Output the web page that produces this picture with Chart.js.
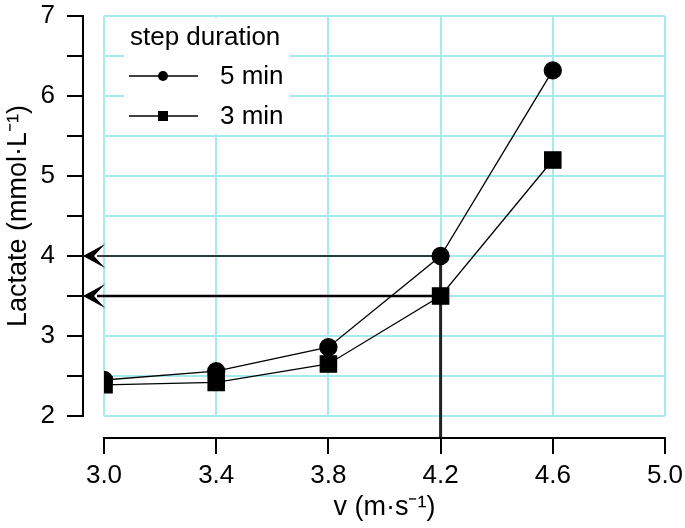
<!DOCTYPE html>
<html>
<head>
<meta charset="utf-8">
<script src="https://cdn.jsdelivr.net/npm/chart.js@4"></script>
<style>
html, body { margin:0; padding:0; background:#fff; }
#wrap { width:685px; height:528px; }
</style>
</head>
<body>
<div id="wrap"><canvas id="chart" width="685" height="528"></canvas></div>
<script>
// data
const speeds = [3.0, 3.4, 3.8, 4.2, 4.6];
const lactate5 = [2.45, 2.56, 2.86, 4.0, 6.32];
const lactate3 = [2.39, 2.42, 2.65, 3.5, 5.2];
const seriesNames = ["5 min", "3 min"];
const legendTitle = "step duration";
const xRange = [3.0, 5.0];
const yRange = [2, 7];
const xStep = 0.4;
const yStep = 0.5;
const thresholdSpeed = 4.2;
const thresholds = [4.0, 3.5];

const FONT = "'Liberation Sans', Arial, sans-serif";
const GRID = "#a4eaf0";

function pts(xs, ys){
  return xs.map((x, i) => ({x: x, y: ys[i]}));
}

function arrowHead(ctx, x, y){
  ctx.beginPath();
  ctx.moveTo(x, y);
  ctx.lineTo(x + 22, y - 12);
  ctx.lineTo(x + 11, y);
  ctx.lineTo(x + 22, y + 12);
  ctx.closePath();
  ctx.fill();
}

const extras = {
  id: "extras",
  beforeDatasetsDraw(chart){
    const ctx = chart.ctx;
    const xs = chart.scales.x, ys = chart.scales.y;
    const area = chart.chartArea;
    ctx.save();
    // legend box
    ctx.fillStyle = "#fff";
    ctx.fillRect(area.left + 20, area.top + 2, 166, 116);
    ctx.fillStyle = "#000";
    ctx.font = "26px " + FONT;
    ctx.textBaseline = "middle";
    ctx.textAlign = "left";
    ctx.fillText(legendTitle, area.left + 26, area.top + 22);
    const rows = [area.top + 60, area.top + 100];
    rows.forEach((ry, i) => {
      ctx.strokeStyle = "#000";
      ctx.lineWidth = 1.5;
      ctx.beginPath();
      ctx.moveTo(area.left + 25, ry);
      ctx.lineTo(area.left + 94, ry);
      ctx.stroke();
      ctx.beginPath();
      if (i === 0) ctx.arc(area.left + 59, ry, 5, 0, Math.PI * 2);
      else ctx.rect(area.left + 54, ry - 5, 10, 10);
      ctx.fill();
      ctx.fillText(seriesNames[i], area.left + 116, ry + 1);
    });

    // threshold lines
    const axisX = area.left - 21;
    const axisY = area.bottom + 22;
    const px = xs.getPixelForValue(thresholdSpeed);
    ctx.strokeStyle = "#000";
    thresholds.forEach((t, i) => {
      const py = ys.getPixelForValue(t);
      ctx.lineWidth = i === 0 ? 1.5 : 2.5;
      ctx.beginPath();
      ctx.moveTo(px, py);
      ctx.lineTo(axisX + 14, py);
      ctx.stroke();
      arrowHead(ctx, axisX, py);
    });
    ctx.strokeStyle = "#222";
    ctx.lineWidth = 3;
    ctx.beginPath();
    ctx.moveTo(px, ys.getPixelForValue(thresholds[0]));
    ctx.lineTo(px, axisY);
    ctx.stroke();

    // detached axes
    ctx.strokeStyle = "#000";
    ctx.lineWidth = 2;
    ctx.beginPath();
    ctx.moveTo(axisX, area.top);
    ctx.lineTo(axisX, area.bottom);
    for (let v = yRange[0]; v <= yRange[1] + 1e-9; v += yStep){
      const py = Math.round(ys.getPixelForValue(v));
      ctx.moveTo(axisX - 16, py);
      ctx.lineTo(axisX + 1, py);
    }
    ctx.moveTo(area.left, axisY);
    ctx.lineTo(area.right, axisY);
    for (let v = xRange[0]; v <= xRange[1] + 1e-9; v += xStep){
      const qx = Math.round(xs.getPixelForValue(v));
      ctx.moveTo(qx, axisY - 1);
      ctx.lineTo(qx, axisY + 16);
    }
    ctx.stroke();
    ctx.restore();
  }
};

new Chart(document.getElementById("chart"), {
  type: "scatter",
  data: {
    datasets: [
      {
        label: seriesNames[1],
        data: pts(speeds, lactate3),
        showLine: true,
        borderColor: "#000",
        backgroundColor: "#000",
        borderWidth: 1.3,
        pointStyle: "rect",
        pointRadius: 11.5,
        pointHoverRadius: 11.5
      },
      {
        label: seriesNames[0],
        data: pts(speeds, lactate5),
        showLine: true,
        borderColor: "#000",
        backgroundColor: "#000",
        borderWidth: 1.3,
        pointStyle: "circle",
        pointRadius: 8.5,
        pointHoverRadius: 8.5
      }
    ]
  },
  options: {
    responsive: false,
    animation: false,
    layout: { autoPadding: false, padding: { top: 16, right: 20, left: 0, bottom: 0 } },
    plugins: { legend: { display: false }, tooltip: { enabled: false } },
    scales: {
      x: {
        type: "linear",
        min: xRange[0],
        max: xRange[1],
        afterFit(s){ s.height = 112; s.paddingLeft = 0; s.paddingRight = 0; },
        afterBuildTicks(s){
          const t = [];
          for (let v = xRange[0]; v <= xRange[1] + 1e-9; v += xStep) t.push({value: Math.round(v * 10) / 10});
          s.ticks = t;
        },
        border: { display: false },
        grid: { color: GRID, lineWidth: 2, drawTicks: false },
        ticks: {
          color: "#000",
          padding: 44,
          maxRotation: 0,
          font: { family: FONT, size: 26 },
          callback: v => v.toFixed(1)
        },
        title: {
          display: true,
          text: "v (m·s⁻¹)",
          color: "#000",
          font: { family: FONT, size: 27 },
          padding: { top: 0, bottom: 4 }
        }
      },
      y: {
        type: "linear",
        min: yRange[0],
        max: yRange[1],
        afterFit(s){ s.width = 104; s.paddingTop = 0; s.paddingBottom = 0; },
        border: { display: false },
        grid: { color: GRID, lineWidth: 2, drawTicks: false },
        ticks: {
          stepSize: yStep,
          color: "#000",
          padding: 49,
          font: { family: FONT, size: 26 },
          callback: v => Number.isInteger(v) ? String(v) : ""
        },
        title: {
          display: true,
          text: "Lactate (mmol·L⁻¹)",
          color: "#000",
          font: { family: FONT, size: 27 },
          padding: { top: 2, bottom: 0 }
        }
      }
    }
  },
  plugins: [extras]
});
</script>
</body>
</html>
